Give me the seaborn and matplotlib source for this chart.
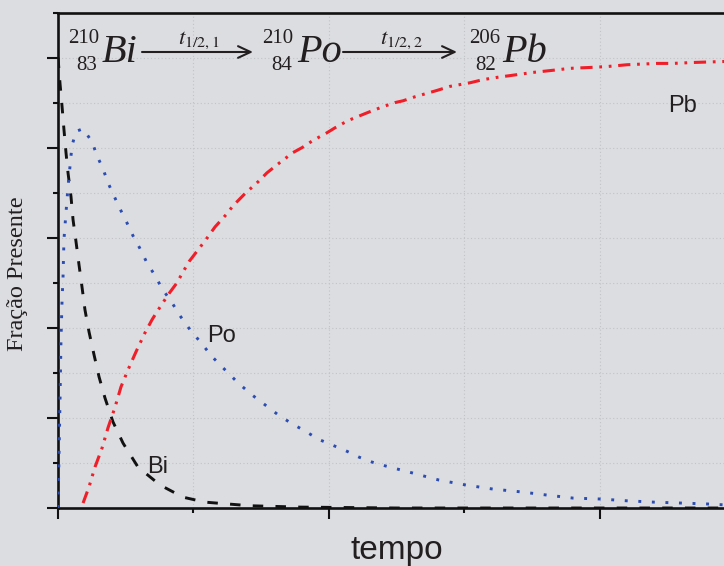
import matplotlib
matplotlib.use("Agg")
import matplotlib.pyplot as plt
import seaborn as sns
import pandas as pd
from matplotlib.ticker import MultipleLocator

# ---------------- data ----------------
bi_t = [0.0, 0.015, 0.03, 0.044, 0.059, 0.074, 0.096, 0.111, 0.133, 0.155, 0.177,
        0.199, 0.229, 0.266, 0.303, 0.347, 0.406, 0.48, 0.59, 0.753, 0.923, 1.085,
        1.417, 1.786, 2.5, 3.5, 5.0]
bi_y = [1.0, 0.942, 0.891, 0.84, 0.789, 0.744, 0.691, 0.64, 0.591, 0.54, 0.491,
        0.44, 0.391, 0.34, 0.291, 0.244, 0.191, 0.144, 0.091, 0.051, 0.024, 0.013,
        0.005, 0.002, 0.0, 0.0, 0.0]

po_t = [0.0, 0.007, 0.015, 0.022, 0.03, 0.037, 0.044, 0.059, 0.074, 0.089, 0.103,
        0.133, 0.185, 0.251, 0.288, 0.332, 0.369, 0.413, 0.458, 0.509, 0.554, 0.605,
        0.657, 0.716, 0.768, 0.841, 0.9, 0.974, 1.055, 1.137, 1.232, 1.328, 1.432,
        1.528, 1.624, 1.727, 1.823, 1.919, 2.022, 2.125, 2.221, 2.317, 2.421, 2.613,
        2.812, 3.011, 3.21, 3.41, 3.601, 3.801, 4.0, 4.199, 4.399, 4.598, 4.79, 4.915]
po_y = [0.0, 0.107, 0.24, 0.373, 0.462, 0.511, 0.596, 0.656, 0.713, 0.76, 0.804,
        0.836, 0.842, 0.813, 0.782, 0.753, 0.722, 0.693, 0.664, 0.633, 0.604, 0.576,
        0.544, 0.516, 0.487, 0.456, 0.427, 0.396, 0.367, 0.336, 0.307, 0.278, 0.251,
        0.229, 0.207, 0.187, 0.171, 0.153, 0.14, 0.127, 0.113, 0.102, 0.093, 0.078,
        0.062, 0.051, 0.042, 0.036, 0.029, 0.022, 0.02, 0.016, 0.013, 0.011, 0.009, 0.007]

pb_t = [0.185, 0.229, 0.273, 0.325, 0.369, 0.421, 0.465, 0.517, 0.576, 0.642, 0.694,
        0.731, 0.775, 0.819, 0.878, 0.915, 0.967, 1.041, 1.092, 1.159, 1.24, 1.292,
        1.38, 1.476, 1.542, 1.638, 1.734, 1.801, 1.882, 1.985, 2.044, 2.14, 2.229,
        2.303, 2.399, 2.487, 2.546, 2.635, 2.797, 2.893, 3.041, 3.137, 3.24, 3.387,
        3.506, 3.631, 3.779, 3.926, 4.052, 4.199, 4.421, 4.539, 4.686, 4.886, 5.0]
pb_y = [0.011, 0.047, 0.091, 0.133, 0.178, 0.224, 0.269, 0.307, 0.347, 0.389, 0.418,
        0.436, 0.456, 0.476, 0.5, 0.52, 0.547, 0.576, 0.596, 0.624, 0.651, 0.671,
        0.698, 0.724, 0.744, 0.767, 0.789, 0.8, 0.816, 0.833, 0.844, 0.86, 0.871,
        0.88, 0.891, 0.9, 0.904, 0.913, 0.927, 0.936, 0.944, 0.951, 0.956, 0.962,
        0.967, 0.971, 0.976, 0.978, 0.98, 0.984, 0.987, 0.987, 0.989, 0.991, 0.992]

curve_labels = ["Bi", "Po", "Pb"]
x_label = "tempo"
y_label = "Fração Presente"

# ---------------- style ----------------
BG = "#dcdde0"
TXT = "#231f20"
BLUE = "#2b4db3"
RED = "#f01e28"

W, H = 724, 566
fig = plt.figure(figsize=(W / 100, H / 100), dpi=100, facecolor=BG)
ax = fig.add_axes([58 / W, (H - 508) / H, 5 * 135.5 / W, (508 - 12.5) / H])
ax.set_facecolor(BG)

df_bi = pd.DataFrame({"t": bi_t, "v": bi_y})
df_po = pd.DataFrame({"t": po_t, "v": po_y})
df_pb = pd.DataFrame({"t": pb_t, "v": pb_y})

sns.lineplot(data=df_bi, x="t", y="v", ax=ax, color="#111111", lw=2.1,
             linestyle=(0, (3.6, 4.2)), errorbar=None, zorder=3)
sns.lineplot(data=df_po, x="t", y="v", ax=ax, color=BLUE, lw=2.1,
             linestyle=(0, (1.0, 3.65)), errorbar=None, zorder=3)
sns.lineplot(data=df_pb, x="t", y="v", ax=ax, color=RED, lw=2.2,
             linestyle=(0, (4.0, 2.2, 0.9, 2.2, 0.9, 2.2)), errorbar=None, zorder=3)

ax.set_xlim(0, 5)
ax.set_ylim(0, 1.1)
ax.set_xlabel("")
ax.set_ylabel("")

ax.xaxis.set_major_locator(MultipleLocator(2))
ax.xaxis.set_minor_locator(MultipleLocator(1))
ax.yaxis.set_major_locator(MultipleLocator(0.2))
ax.yaxis.set_minor_locator(MultipleLocator(0.1))
ax.tick_params(which="major", direction="out", length=8, width=1.5, color="#111111",
               labelleft=False, labelbottom=False)
ax.tick_params(which="minor", direction="out", length=3.8, width=1.5, color="#111111")
ax.grid(which="both", linestyle=(0, (1, 2.2)), color="#c2c3c6", lw=0.8)
ax.set_axisbelow(True)

for side in ["left", "bottom", "top"]:
    ax.spines[side].set_color("#111111")
    ax.spines[side].set_linewidth(1.9)
ax.spines["right"].set_visible(False)


def ft(x, y, s, **kw):
    fig.text(x / W, 1 - y / H, s, **kw)


SERIF = "Liberation Serif"
SANS = "Liberation Sans"

# curve labels
ft(668, 112, curve_labels[2], family=SANS, size=17, color=TXT, va="baseline")
ft(207, 342, curve_labels[1], family=SANS, size=17, color=TXT, va="baseline")
ft(147, 473, curve_labels[0], family=SANS, size=17, color=TXT, va="baseline")

# axis labels
ft(397, 559, x_label, family=SANS, size=24, color=TXT, ha="center", va="baseline")
ft(18, 274, y_label, family=SERIF, size=17.5, color=TXT, ha="center", va="center",
   rotation=90)

# decay equation
plt.rcParams["mathtext.fontset"] = "stix"
nuclides = [("210", "83", "Bi", 99, 97, 102),
            ("210", "84", "Po", 293, 292, 297),
            ("206", "82", "Pb", 500, 496, 502)]
for mass, z, sym, xm, xz, xs in nuclides:
    ft(xm, 43, mass, family=SERIF, size=15, color=TXT, ha="right", va="baseline")
    ft(xz, 70, z, family=SERIF, size=15, color=TXT, ha="right", va="baseline")
    ft(xs, 62, sym, family=SERIF, style="italic", size=29, color=TXT, va="baseline")

for (x0, x1, lab) in [(142, 253, r"$t_{1/2,1}$"), (343, 457, r"$t_{1/2,2}$")]:
    ax.annotate("", xy=(x1, H - 52), xytext=(x0, H - 52), xycoords="figure pixels",
                textcoords="figure pixels",
                arrowprops=dict(arrowstyle="->,head_length=0.9,head_width=0.42",
                                lw=1.5, color=TXT, shrinkA=0, shrinkB=0))
    ft((x0 + x1) / 2 + 1, 44, lab, size=16.5, color=TXT, ha="center", va="baseline")

fig.savefig("out.png", dpi=100, facecolor=BG)
